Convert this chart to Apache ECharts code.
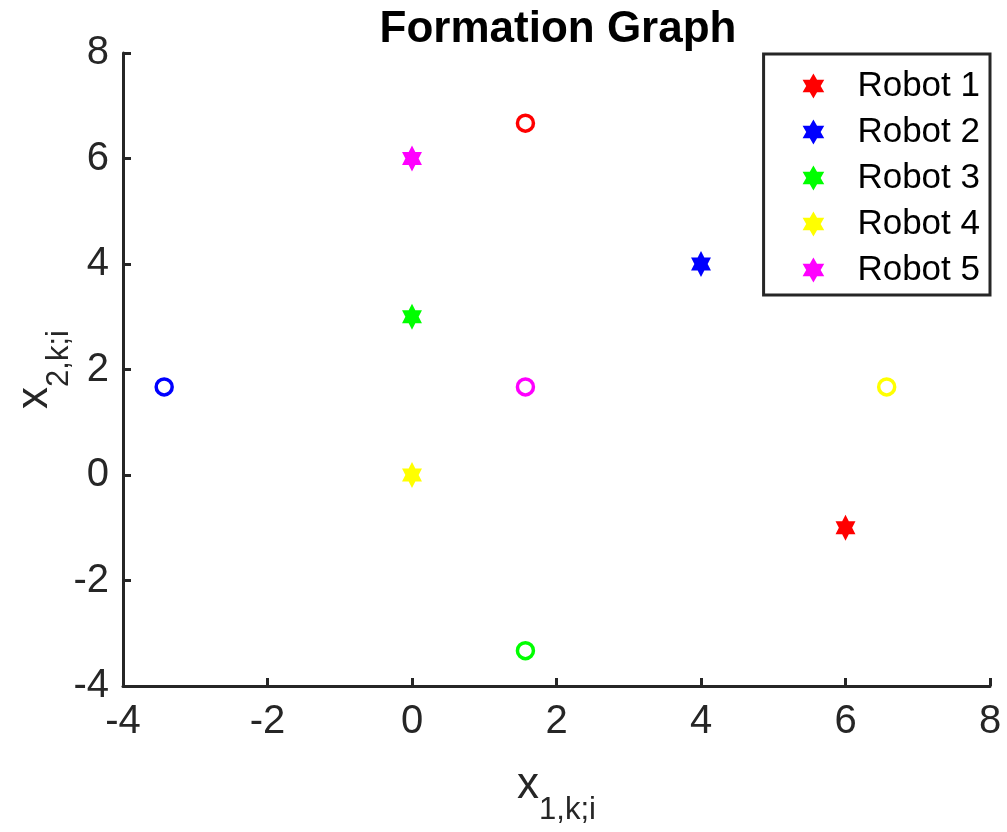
<!DOCTYPE html>
<html>
<head>
<meta charset="utf-8">
<script src="https://cdn.jsdelivr.net/npm/echarts@6/dist/echarts.min.js"></script>
<style>
html,body{margin:0;padding:0;background:#fff;}
#chart{width:1007px;height:832px;}
</style>
</head>
<body>
<div id="chart"></div>
<script>
// Data
const robotNames = ['Robot 1', 'Robot 2', 'Robot 3', 'Robot 4', 'Robot 5'];
const robotColors = ['#ff0000', '#0000ff', '#00ff00', '#ffff00', '#ff00ff'];
const starX = [6, 4, 0, 0, 0];
const starY = [-1, 4, 3, 0, 6];
const circleX = [1.57, -3.43, 1.57, 6.57, 1.57];
const circleY = [6.67, 1.67, -3.33, 1.67, 1.67];
const xTicks = [-4, -2, 0, 2, 4, 6, 8];
const yTicks = [-4, -2, 0, 2, 4, 6, 8];

const FONT = '"Liberation Sans", Arial, Helvetica, sans-serif';
const AX = '#262626';
const STAR = 'path://M0,-10 L2.887,-5 L8.66,-5 L5.774,0 L8.66,5 L2.887,5 L0,10 L-2.887,5 L-8.66,5 L-5.774,0 L-8.66,-5 L-2.887,-5 Z';

const series = [];
robotNames.forEach((n, i) => {
  series.push({
    name: n,
    type: 'scatter',
    symbol: STAR,
    symbolKeepAspect: true,
    symbolSize: [23, 26],
    itemStyle: { color: robotColors[i], opacity: 1 },
    data: [[starX[i], starY[i]]],
    z: 3
  });
});
robotNames.forEach((n, i) => {
  series.push({
    name: 'target ' + (i + 1),
    type: 'scatter',
    symbol: 'circle',
    symbolSize: 16,
    itemStyle: { color: '#ffffff', borderColor: robotColors[i], borderWidth: 3.5, opacity: 1 },
    data: [[circleX[i], circleY[i]]],
    z: 3
  });
});

const nameRich = {
  m: { fontFamily: FONT, fontSize: 44, color: AX, lineHeight: 46, padding: [0, 0, 24, 0] },
  s: { fontFamily: FONT, fontSize: 31, color: AX, lineHeight: 32, padding: [24, 0, 0, 0] }
};

function axisCommon(ticks) {
  return {
    type: 'value',
    min: ticks[0],
    max: ticks[ticks.length - 1],
    interval: ticks[1] - ticks[0],
    axisLine: { show: true, onZero: false, lineStyle: { color: AX, width: 3 } },
    axisTick: { show: true, inside: true, length: 8, lineStyle: { color: AX, width: 3 } },
    splitLine: { show: false },
    axisLabel: { fontFamily: FONT, fontSize: 40, color: AX }
  };
}

const xAxis = Object.assign(axisCommon(xTicks), {
  name: '{m|x}{s|1,k;i}',
  nameLocation: 'middle',
  nameGap: 89,
  nameTextStyle: { rich: nameRich }
});
xAxis.axisLabel.margin = 16;

const yAxis = Object.assign(axisCommon(yTicks), {
  name: '{m|x}{s|2,k;i}',
  nameLocation: 'middle',
  nameGap: 53,
  nameRotate: 90,
  nameMoveOverlap: false,
  nameTextStyle: { rich: nameRich }
});
yAxis.axisLabel.margin = 14;

const chart = echarts.init(document.getElementById('chart'), null, { renderer: 'canvas' });
chart.setOption({
  backgroundColor: '#ffffff',
  animation: false,
  title: {
    text: 'Formation Graph',
    left: 553,
    textAlign: 'center',
    top: 3,
    textStyle: { fontFamily: FONT, fontSize: 44, fontWeight: 'bold', color: '#000' }
  },
  grid: { left: 123, right: 17, top: 53, bottom: 146, containLabel: false, outerBoundsMode: 'none' },
  xAxis: xAxis,
  yAxis: yAxis,
  legend: {
    data: robotNames.map(n => ({ name: n, icon: STAR })),
    orient: 'vertical',
    right: 17,
    top: 54,
    itemWidth: 22,
    itemHeight: 25,
    itemGap: 10,
    padding: [14, 10, 7, 39],
    borderColor: AX,
    borderWidth: 3,
    backgroundColor: '#ffffff',
    textStyle: { fontFamily: FONT, fontSize: 35, color: '#000', lineHeight: 36, padding: [0, 0, 0, 28] },
    selectedMode: false
  },
  series: series
});
</script>
</body>
</html>
